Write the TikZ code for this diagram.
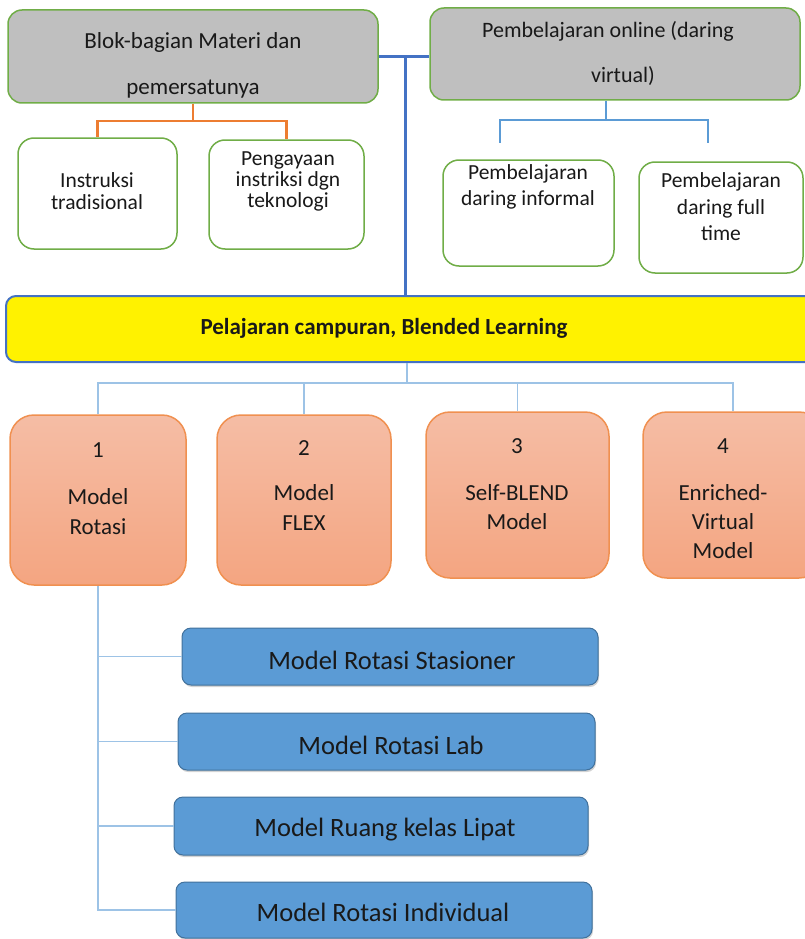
\documentclass[tikz,border=0pt]{standalone}
\usepackage{fontspec}
\setmainfont{Carlito}
\usetikzlibrary{shadows}
\definecolor{grn}{HTML}{70AD47}
\definecolor{boxgray}{HTML}{BFBFBF}
\definecolor{mainblue}{HTML}{4472C4}
\definecolor{midblue}{HTML}{5B9BD5}
\definecolor{paleblue}{HTML}{9DC3E6}
\definecolor{orangeln}{HTML}{ED7D31}
\definecolor{orangetop}{HTML}{F5BDA5}
\definecolor{orangebot}{HTML}{F4A581}
\definecolor{rotedge}{HTML}{41719C}
\tikzstyle{graybox} = [rectangle, rounded corners=14pt, draw=grn, line width=1.5pt, fill=boxgray, inner sep=0pt]
\tikzstyle{whitebox} = [rectangle, rounded corners=16pt, draw=grn, line width=1.5pt, fill=white, inner sep=0pt]
\tikzstyle{yellowbox} = [rectangle, rounded corners=10pt, draw=mainblue, line width=2pt, fill=yellow, inner sep=0pt]
\tikzstyle{modelbox} = [rectangle, rounded corners=24pt, draw=orangeln!85, line width=1.5pt, top color=orangetop, bottom color=orangebot, inner sep=0pt]
\tikzstyle{rotbox} = [rectangle, rounded corners=9pt, draw=rotedge, line width=1pt, fill=midblue, inner sep=0pt, drop shadow={opacity=0.35, shadow xshift=1pt, shadow yshift=-2pt}]
\tikzstyle{txt} = [align=center, inner sep=0pt, text=black!90]

\begin{document}
\begin{tikzpicture}[x=1pt, y=-1pt]
    \tikzset{mainln/.style={draw=mainblue, line width=3pt},
    orln/.style={draw=orangeln, line width=2.5pt},
    subln/.style={draw=midblue, line width=2pt},
    thinln/.style={draw=paleblue, line width=1.5pt}}
\useasboundingbox (0,0) rectangle (804,939);

\node (tl) [graybox, minimum width=370, minimum height=93] at (193,56.5) {};
\node (tlT) [txt, font=\fontsize{23}{46}\selectfont] at (193,65) {Blok-bagian Materi dan\\pemersatunya};
\node (tr) [graybox, minimum width=370, minimum height=92] at (615,54) {};
\node (trT) [txt, font=\fontsize{22}{45}\selectfont] at (608,53) {Pembelajaran online (daring\\\hspace*{30pt}virtual)};

\node (instr) [whitebox, minimum width=159, minimum height=111] at (97.5,193.5) {};
\node (instrT) [txt, font=\fontsize{21.5}{22}\selectfont] at (97,191) {Instruksi\\tradisional};
\node (peng) [whitebox, minimum width=155, minimum height=109] at (286.5,194.5) {};
\node (pengT) [txt, font=\fontsize{21.5}{21}\selectfont] at (288,181) {Pengayaan\\instriksi dgn\\teknologi};
\node (inf) [whitebox, minimum width=171, minimum height=106] at (528.5,213) {};
\node (infT) [txt, font=\fontsize{21.5}{26}\selectfont] at (528,187) {Pembelajaran\\daring informal};
\node (full) [whitebox, minimum width=164, minimum height=111] at (721,217.5) {};
\node (fullT) [txt, font=\fontsize{21.5}{26.5}\selectfont] at (721,207) {Pembelajaran\\daring full\\time};

\node (yl) [yellowbox, minimum width=814, minimum height=66] at (413,329) {};
\node (ylT) [txt, font=\fontsize{23}{25}\selectfont\bfseries] at (384,328) {Pelajaran campuran, Blended Learning};

\node (m1) [modelbox, minimum width=176, minimum height=170] at (98,500) {};
\node (m1T) [txt, font=\fontsize{23}{30}\selectfont] at (98,488.5) {1\\[17pt]Model\\Rotasi};
\node (m2) [modelbox, minimum width=174, minimum height=170] at (304,500) {};
\node (m2T) [txt, font=\fontsize{23}{30}\selectfont] at (304,486) {2\\[15pt]Model\\FLEX};
\node (m3) [modelbox, minimum width=183, minimum height=166] at (517.5,495) {};
\node (m3T) [txt, font=\fontsize{23}{29}\selectfont] at (517,484) {3\\[18pt]Self-BLEND\\Model};
\node (m4) [modelbox, minimum width=180, minimum height=166] at (733,495) {};
\node (m4T) [txt, font=\fontsize{23}{29}\selectfont] at (723,498.5) {4\\[18pt]Enriched-\\Virtual\\Model};

\node (r1) [rotbox, minimum width=416, minimum height=57] at (390,656.5) {};
\node (r1T) [txt, font=\fontsize{26.5}{30}\selectfont] at (392,660) {Model Rotasi Stasioner};
\node (r2) [rotbox, minimum width=417, minimum height=57] at (386.5,741.5) {};
\node (r2T) [txt, font=\fontsize{26.5}{30}\selectfont] at (391,745) {Model Rotasi Lab};
\node (r3) [rotbox, minimum width=414, minimum height=58] at (381,826) {};
\node (r3T) [txt, font=\fontsize{26.5}{30}\selectfont] at (385,830) {Model Ruang kelas Lipat};
\node (r4) [rotbox, minimum width=416, minimum height=56] at (384,910) {};
\node (r4T) [txt, font=\fontsize{26.5}{30}\selectfont] at (383,912) {Model Rotasi Individual};

\coordinate (hub) at (405,57);
\coordinate (ob) at (193,121);
\coordinate (rb) at (606,120);
\coordinate (rbl) at (500,143);
\coordinate (rbr) at (708,143);
\coordinate (yb) at (407,383);

\draw [mainln] (tl.east |- hub) -- (tr.west |- hub);
\draw [mainln] (hub) -- (hub |- yl.north);
\draw [orln] (tl.south) -- (ob) -| (instr.north);
\draw [orln] (ob) -| (peng.north);
\draw [subln] (rb |- tr.south) -- (rb) -| (rbl);
\draw [subln] (rb) -| (rbr);

\draw [thinln] (yb |- yl.south) -- (yb) -| (m1.north);
\draw [thinln] (yb) -| (m2.north);
\draw [thinln] (yb) -| (m3.north);
\draw [thinln] (yb) -| (m4.north);
\draw [thinln] (m1.south) |- (r1.west);
\draw [thinln] (m1.south) |- (r2.west);
\draw [thinln] (m1.south) |- (r3.west);
\draw [thinln] (m1.south) |- (r4.west);
\end{tikzpicture}
\end{document}
